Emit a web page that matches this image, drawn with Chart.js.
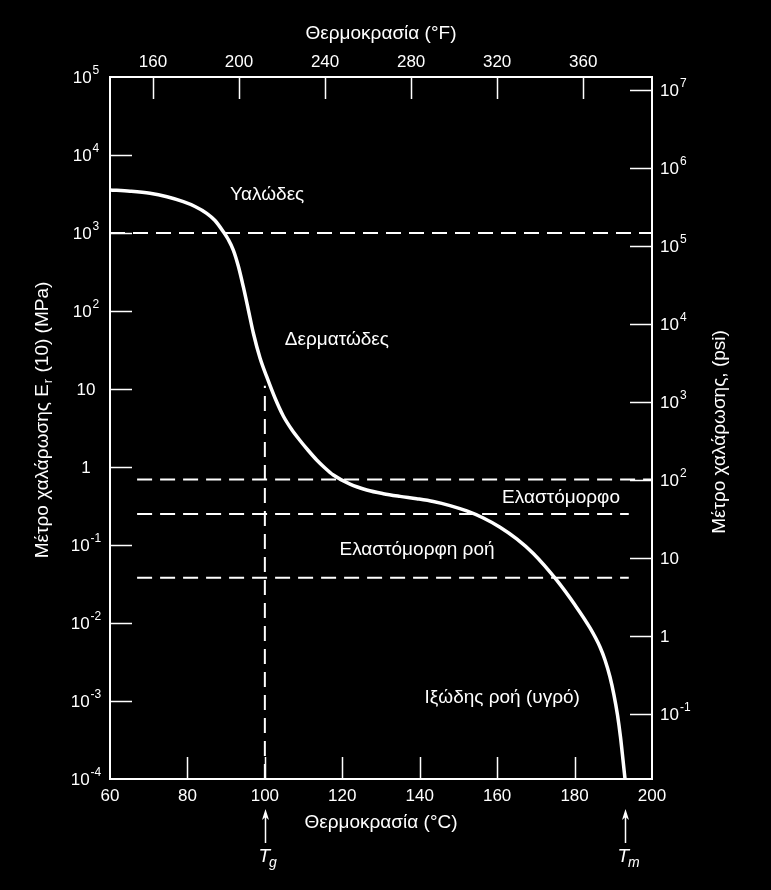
<!DOCTYPE html>
<html><head><meta charset="utf-8">
<script src="https://cdn.jsdelivr.net/npm/chart.js@4.4.1/dist/chart.umd.min.js"></script>
<style>html,body{margin:0;padding:0;background:#000;}canvas{display:block;}</style>
</head><body>
<canvas id="c" width="771" height="890"></canvas>
<script>
// ---- data ----
const temperatureC = [60, 65.17, 70.33, 74.72, 78.93, 81.96, 84.98, 87.12, 89.27, 90.56, 91.85, 93.14, 94.43, 95.72, 97.02, 98.75, 100.48, 102.62, 104.76, 106.93, 109.08, 111.22, 113.39, 115.53, 117.68, 121.99, 126.31, 130.59, 134.91, 139.22, 143.51, 147.82, 152.14, 156.43, 160.74, 165.05, 169.34, 175.38, 180.11, 183.99, 186.57, 187.86, 189.15, 190.18, 191.09, 191.86, 192.51, 193.03];
const modulusMPa   = [3560, 3435, 3228, 2912, 2519, 2187, 1789, 1447, 1039, 825, 605, 377.5, 204.9, 104.5, 52.24, 24.97, 14.38, 7.665, 4.507, 3.026, 2.187, 1.627, 1.230, 0.971, 0.789, 0.602, 0.507, 0.455, 0.420, 0.392, 0.361, 0.320, 0.273, 0.222, 0.169, 0.1197, 0.0778, 0.0354, 0.0170, 0.00863, 0.00492, 0.00335, 0.00203, 0.00119, 0.000661, 0.000345, 0.000175, 0.0001];
const dashLevelsMPa = [1000, 0.69, 0.25, 0.038];
const dashStartC = [60, 67, 67, 67];
const dashEndC = [200, 200, 194, 194];
const tgC = 100;
const tgLineTopMPa = 11;
const tmC = 193;
const bottomTicksC = [60, 80, 100, 120, 140, 160, 180, 200];
const bottomTickLabels = ['60', '80', '100', '120', '140', '160', '180', '200'];
const topTicksF = [160, 200, 240, 280, 320, 360];
const topTickLabels = ['160', '200', '240', '280', '320', '360'];
const leftTickValues = [1e-4, 1e-3, 1e-2, 1e-1, 1, 10, 1e2, 1e3, 1e4, 1e5];
const leftTickBase = ['10', '10', '10', '10', '1', '10', '10', '10', '10', '10'];
const leftTickExp  = ['-4', '-3', '-2', '-1', '', '', '2', '3', '4', '5'];
const rightTickValues = [1e-1, 1, 10, 1e2, 1e3, 1e4, 1e5, 1e6, 1e7];
const rightTickBase = ['10', '1', '10', '10', '10', '10', '10', '10', '10'];
const rightTickExp  = ['-1', '', '', '2', '3', '4', '5', '6', '7'];
const MPA_TO_PSI = 145.04;
const regionLabels = ['Υαλώδες', 'Δερματώδες', 'Ελαστόμορφο', 'Ελαστόμορφη ροή', 'Ιξώδης ροή (υγρό)'];
const regionLabelC = [100.6, 118.6, 176.5, 139.3, 161.3];
const regionLabelMPa = [3100, 43, 0.40, 0.087, 0.0011];

const FONT = "'Liberation Sans', Arial, Helvetica, sans-serif";
const WHITE = '#ffffff';

const datasets = [{
  label: 'curve',
  data: temperatureC.map((t, i) => ({x: t, y: modulusMPa[i]})),
  borderColor: WHITE, borderWidth: 3.5, pointRadius: 0, showLine: true,
  cubicInterpolationMode: 'monotone', xAxisID: 'x', yAxisID: 'y'
}];
dashLevelsMPa.forEach((lv, i) => {
  datasets.push({
    label: 'dash' + i,
    data: [{x: dashStartC[i], y: lv}, {x: dashEndC[i], y: lv}],
    borderColor: WHITE, borderWidth: 2, borderDash: [15, 8], pointRadius: 0, showLine: true,
    xAxisID: 'x', yAxisID: 'y'
  });
});
datasets.push({
  label: 'tg',
  data: [{x: tgC, y: 1e-4}, {x: tgC, y: tgLineTopMPa}],
  borderColor: WHITE, borderWidth: 2, borderDash: [15, 8], pointRadius: 0, showLine: true,
  xAxisID: 'x', yAxisID: 'y'
});

function fixTicks(values) {
  return function (scale) { scale.ticks = values.map(v => ({value: v})); };
}
function labelsFrom(arr) { return function (v, i) { return arr[i]; }; }

const tickFont = {family: FONT, size: 17};
const borderOpt = {display: true, color: WHITE, width: 2};
const BASE_FONT = '17px ' + FONT, EXP_FONT = '12px ' + FONT;

function powerLabel(ctx, base, exp, x, y, align) {
  ctx.font = BASE_FONT;
  const wb = ctx.measureText(base).width;
  ctx.font = EXP_FONT;
  const we = exp ? ctx.measureText(exp).width + 1 : 0;
  const total = wb + we;
  let x0 = align === 'center' ? x - total / 2 : x;
  ctx.textAlign = 'left'; ctx.textBaseline = 'alphabetic';
  ctx.font = BASE_FONT;
  ctx.fillText(base, x0, y + 6);
  if (exp) { ctx.font = EXP_FONT; ctx.fillText(exp, x0 + wb + 1, y - 3); }
}

const decor = {
  id: 'decor',
  afterDatasetsDraw(chart) {
    const ctx = chart.ctx;
    const a = chart.chartArea;
    const sx = chart.scales.x, sxf = chart.scales.xF, sy = chart.scales.y, syp = chart.scales.yPsi;
    const TL = 22;
    ctx.save();
    ctx.strokeStyle = WHITE; ctx.fillStyle = WHITE; ctx.lineWidth = 1.5;
    ctx.beginPath();
    bottomTicksC.forEach(v => { if (v > 60 && v < 200) { const p = Math.round(sx.getPixelForValue(v)) + 0.5; ctx.moveTo(p, a.bottom); ctx.lineTo(p, a.bottom - TL); } });
    topTicksF.forEach(v => { const p = Math.round(sxf.getPixelForValue(v)) + 0.5; ctx.moveTo(p, a.top); ctx.lineTo(p, a.top + TL); });
    leftTickValues.forEach(v => { if (v > 1e-4 && v < 1e5) { const p = Math.round(sy.getPixelForValue(v)) + 0.5; ctx.moveTo(a.left, p); ctx.lineTo(a.left + TL, p); } });
    rightTickValues.forEach(v => { const p = Math.round(syp.getPixelForValue(v)) + 0.5; ctx.moveTo(a.right, p); ctx.lineTo(a.right - TL, p); });
    ctx.stroke();

    // y tick labels with superscript exponents
    leftTickValues.forEach((v, i) => powerLabel(ctx, leftTickBase[i], leftTickExp[i], 86, sy.getPixelForValue(v), 'center'));
    rightTickValues.forEach((v, i) => powerLabel(ctx, rightTickBase[i], rightTickExp[i], 660, syp.getPixelForValue(v), 'left'));

    // region labels
    ctx.font = '19px ' + FONT;
    ctx.textAlign = 'center'; ctx.textBaseline = 'middle';
    regionLabels.forEach((t, i) => {
      ctx.fillText(t, sx.getPixelForValue(regionLabelC[i]), sy.getPixelForValue(regionLabelMPa[i]));
    });

    // axis titles
    ctx.fillText('Θερμοκρασία (°F)', (a.left + a.right) / 2, 34);
    ctx.fillText('Θερμοκρασία (°C)', (a.left + a.right) / 2, 823);

    // left title with subscript
    ctx.save();
    ctx.translate(43, 420);
    ctx.rotate(-Math.PI / 2);
    ctx.textAlign = 'left'; ctx.textBaseline = 'middle';
    const p1 = 'Μέτρο χαλάρωσης E', p2 = 'r', p3 = ' (10) (MPa)';
    ctx.font = '19px ' + FONT;
    const w1 = ctx.measureText(p1).width, w3 = ctx.measureText(p3).width;
    ctx.font = '13px ' + FONT;
    const w2 = ctx.measureText(p2).width + 2;
    let xx = -(w1 + w2 + w3) / 2;
    ctx.font = '19px ' + FONT; ctx.fillText(p1, xx, 0); xx += w1;
    ctx.font = '13px ' + FONT; ctx.fillText(p2, xx + 1, 5); xx += w2;
    ctx.font = '19px ' + FONT; ctx.fillText(p3, xx, 0);
    ctx.restore();

    // right title
    ctx.save();
    ctx.translate(720, 432);
    ctx.rotate(-Math.PI / 2);
    ctx.textAlign = 'center'; ctx.textBaseline = 'middle';
    ctx.font = '19px ' + FONT;
    ctx.fillText('Μέτρο χαλάρωσης, (psi)', 0, 0);
    ctx.restore();

    // Tg / Tm arrows
    [[tgC, 'g'], [tmC, 'm']].forEach(([t, sub]) => {
      const px = Math.round(sx.getPixelForValue(t)) + 0.5;
      const tip = a.bottom + 30, tail = a.bottom + 64;
      ctx.lineWidth = 1.5;
      ctx.beginPath(); ctx.moveTo(px, tail); ctx.lineTo(px, tip + 4); ctx.stroke();
      ctx.beginPath(); ctx.moveTo(px, tip); ctx.lineTo(px - 3.5, tip + 11); ctx.lineTo(px, tip + 8); ctx.lineTo(px + 3.5, tip + 11); ctx.closePath(); ctx.fill();
      ctx.textAlign = 'left'; ctx.textBaseline = 'alphabetic';
      ctx.font = 'italic 19px ' + FONT;
      const tx = sub === 'g' ? px - 7 : px - 8;
      ctx.fillText('T', tx, a.bottom + 83);
      const tw = ctx.measureText('T').width;
      ctx.font = 'italic 14px ' + FONT;
      ctx.fillText(sub, tx + tw - 1, a.bottom + 88);
    });
    ctx.restore();
  }
};

new Chart(document.getElementById('c'), {
  type: 'scatter',
  data: {datasets},
  options: {
    responsive: false, animation: false,
    layout: {padding: 0},
    plugins: {legend: {display: false}, tooltip: {enabled: false}},
    scales: {
      x: {
        type: 'linear', position: 'bottom', min: 60, max: 200,
        afterBuildTicks: fixTicks(bottomTicksC),
        afterFit(s) { s.height = 111; },
        grid: {drawOnChartArea: false, drawTicks: false},
        border: borderOpt,
        ticks: {color: WHITE, font: tickFont, padding: 7, autoSkip: false, maxRotation: 0, callback: labelsFrom(bottomTickLabels)}
      },
      xF: {
        type: 'linear', position: 'top', min: 140, max: 392,
        afterBuildTicks: fixTicks(topTicksF),
        afterFit(s) { s.height = 77; },
        grid: {drawOnChartArea: false, drawTicks: false},
        border: borderOpt,
        ticks: {color: WHITE, font: tickFont, padding: 4, autoSkip: false, maxRotation: 0, callback: labelsFrom(topTickLabels)}
      },
      y: {
        type: 'logarithmic', position: 'left', min: 1e-4, max: 1e5,
        afterBuildTicks: fixTicks(leftTickValues),
        afterFit(s) { s.width = 110; },
        grid: {drawOnChartArea: false, drawTicks: false},
        border: borderOpt,
        ticks: {display: false}
      },
      yPsi: {
        type: 'logarithmic', position: 'right', min: 1e-4 * MPA_TO_PSI, max: 1e5 * MPA_TO_PSI,
        afterBuildTicks: fixTicks(rightTickValues),
        afterFit(s) { s.width = 119; },
        grid: {drawOnChartArea: false, drawTicks: false},
        border: borderOpt,
        ticks: {display: false}
      }
    }
  },
  plugins: [decor]
});
</script>
</body></html>
